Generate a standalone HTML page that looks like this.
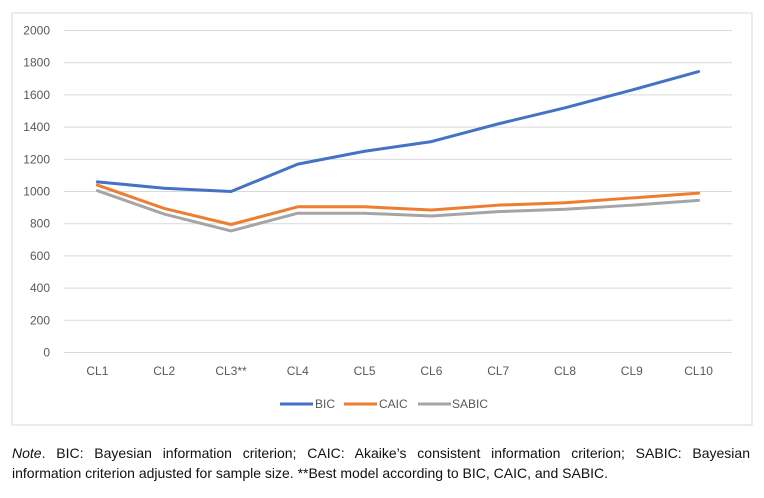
<!DOCTYPE html>
<html><head><meta charset="utf-8"><style>
body{margin:0;background:#fff;width:764px;height:498px;overflow:hidden;font-family:"Liberation Sans",sans-serif}
.nl{position:absolute;left:12px;width:738px;font-size:14px;line-height:20px;color:#111;white-space:nowrap}
#n1{top:443px;text-align:justify;text-align-last:justify;white-space:normal}
#n2{top:463px}
</style></head><body>
<svg id="chart" width="764" height="440" style="position:absolute;left:0;top:0">
<rect x="12" y="13" width="740" height="412" fill="#fff" stroke="#d9d9d9" stroke-width="1"/>
<g id="grid"></g><g id="ylab"></g><g id="xlab"></g><g id="series"></g>
<g font-size="12" fill="#595959">
<line x1="280" y1="404" x2="313" y2="404" stroke="#4472c4" stroke-width="3"/><text x="315" y="408">BIC</text>
<line x1="344" y1="404" x2="377" y2="404" stroke="#ed7d31" stroke-width="3"/><text x="379" y="408">CAIC</text>
<line x1="418" y1="404" x2="451" y2="404" stroke="#a5a5a5" stroke-width="3"/><text x="452" y="408">SABIC</text>
</g>
</svg>
<div id="n1" class="nl"><i>Note</i>. BIC: Bayesian information criterion; CAIC: Akaike’s consistent information criterion; SABIC: Bayesian</div>
<div id="n2" class="nl">information criterion adjusted for sample size. **Best model according to BIC, CAIC, and SABIC.</div>
<script>
const categories=["CL1","CL2","CL3**","CL4","CL5","CL6","CL7","CL8","CL9","CL10"];
const bic=[1060,1020,1000,1170,1250,1310,1420,1520,1630,1745];
const caic=[1040,895,795,905,905,885,915,930,960,990];
const sabic=[1005,860,755,865,865,848,875,890,915,945];
const yTicks=[0,200,400,600,800,1000,1200,1400,1600,1800,2000];
const NS="http://www.w3.org/2000/svg";
const L=64,R=732,T=30.5,B=352.5;
const y=v=>B-(v/2000)*(B-T);
const bw=(R-L)/categories.length;
const x=i=>L+bw*(i+0.5);
function mk(tag,attrs,parent){const e=document.createElementNS(NS,tag);for(const k in attrs)e.setAttribute(k,attrs[k]);parent.appendChild(e);return e;}
const g=document.getElementById('grid'),yl=document.getElementById('ylab'),xl=document.getElementById('xlab'),s=document.getElementById('series');
yTicks.forEach(v=>{
 const ln=mk('line',{x1:L,x2:R,y1:y(v),y2:y(v),stroke:'#d9d9d9','stroke-width':1},g);
 
 
 const t=mk('text',{x:50,y:y(v)+4,'text-anchor':'end','font-size':12,fill:'#595959'},yl);
 t.textContent=v;
 
 
});
categories.forEach((c,i)=>{
 const t=mk('text',{x:x(i),y:375,'text-anchor':'middle','font-size':12,fill:'#595959'},xl);
 t.textContent=c;
 
 
});
[[sabic,'#a5a5a5','sabic-line'],[caic,'#ed7d31','caic-line'],[bic,'#4472c4','bic-line']].forEach(([d,c,n])=>{
 const p=mk('polyline',{points:d.map((v,i)=>x(i)+','+y(v)).join(' '),fill:'none',stroke:c,'stroke-width':3,'stroke-linejoin':'round','stroke-linecap':'round'},s);
 
 
});
</script>
</body></html>
